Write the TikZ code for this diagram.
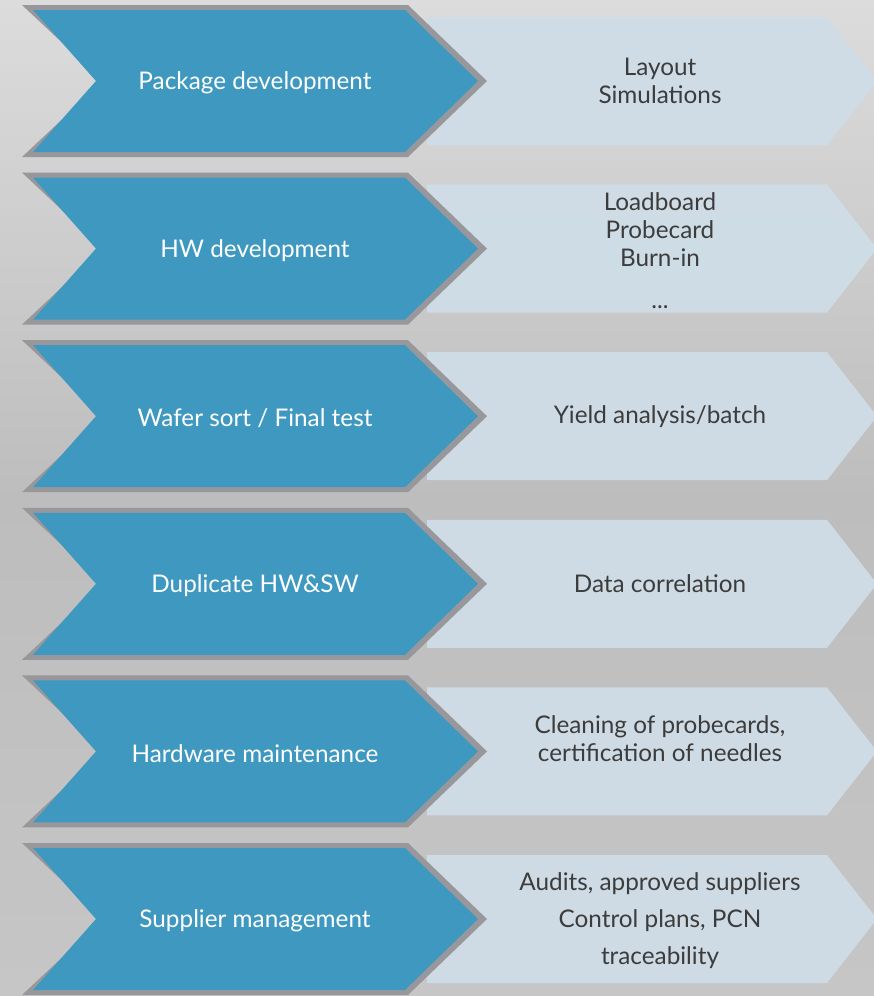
\documentclass[tikz,border=0pt]{standalone}
\usepackage{fontspec}
\setmainfont{Lato}
\definecolor{bgtop}{HTML}{DCDCDC}
\definecolor{bgmid}{HTML}{BDBDBD}
\definecolor{bgbot}{HTML}{C6C6C6}
\definecolor{chevblue}{HTML}{3E98BF}
\definecolor{chevedge}{HTML}{98989C}
\definecolor{chevlight}{HTML}{CFDDE7}
\definecolor{txtdark}{HTML}{3C3C3C}
\tikzset{
  lefttext/.style={text=white, font=\fontsize{24.3}{28}\selectfont, align=center},
  righttext/.style={text=txtdark, font=\fontsize{24.3}{28}\selectfont, align=center},
}
\begin{document}
\begin{tikzpicture}[x=1pt,y=-1pt]
\useasboundingbox (0,0) rectangle (874,996);
\shade[top color=bgtop, bottom color=bgbot, middle color=bgmid] (0,0) rectangle (874,996);
\foreach \i in {0,...,5}{
  \pgfmathsetmacro{\c}{81+167.6*\i}
  % right light chevron
  \fill[chevlight, opacity=0.95] (427,\c-64) -- (827,\c-64) -- (877,\c) -- (827,\c+64) -- (427,\c+64) -- cycle;
  % left chevron: gray border, blue body
  \fill[chevedge] (22,\c-76) -- (408,\c-76) -- (487,\c) -- (408,\c+76) -- (22,\c+76) -- (103,\c) -- cycle;
  \fill[chevblue] (33,\c-71) -- (405,\c-71) -- (478,\c) -- (405,\c+71) -- (33,\c+71) -- (96,\c) -- cycle;
}
\node[lefttext] (l1) at (255,83) {Package development};
\node[lefttext] (l2) at (255,250.6) {HW development};
\node[lefttext] (l3) at (255,418.2) {Wafer sort / Final test};
\node[lefttext] (l4) at (255,585.8) {Duplicate HW\&SW};
\node[lefttext] (l5) at (255,753.4) {Hardware maintenance};
\node[lefttext] (l6) at (255,921) {Supplier management};

\node[righttext] (r1) at (660,81) {Layout\\Simulations};
\node[righttext] (r2) at (660,251) {Loadboard\\Probecard\\Burn-in\\[14pt]...};
\node[righttext] (r3) at (660,416.2) {Yield analysis/batch};
\node[righttext] (r4) at (660,583.8) {Data correlation};
\node[righttext] (r5) at (660,739) {Cleaning of probecards,\\certification of needles};
\node[righttext, font=\fontsize{24.3}{37}\selectfont] (r6) at (660,921) {Audits, approved suppliers\\Control plans, PCN\\traceability};
\end{tikzpicture}
\end{document}
